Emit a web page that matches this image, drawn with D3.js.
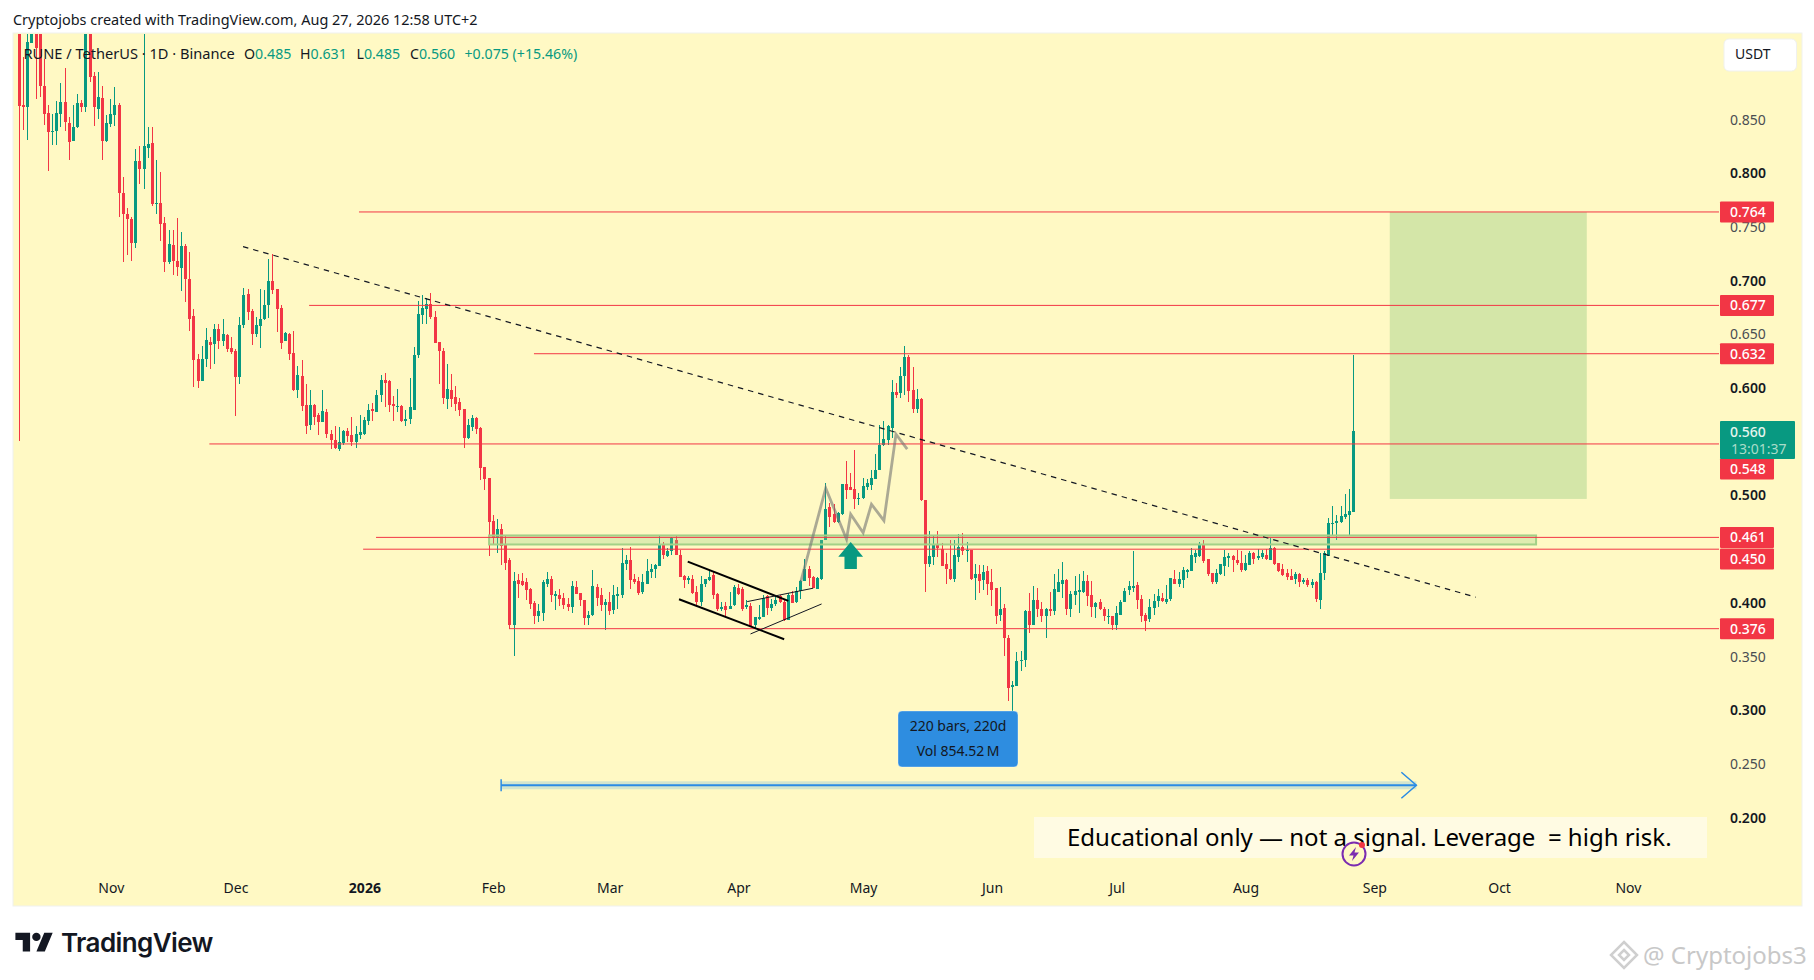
<!DOCTYPE html>
<html>
<head>
<meta charset="utf-8">
<script src="https://d3js.org/d3.v7.min.js"></script>
<style>
  html, body { margin: 0; padding: 0; background: #fff; overflow: hidden; }
  svg { display: block; }
  text { font-family: "Noto Sans", sans-serif; white-space: pre; }
</style>
</head>
<body>
<script>
// daily RUNE/USDT candles, first bar is Oct 10 2025
var opens = [1.1,.864,.862,.921,.96,.95,.881,.856,.838,.839,
.855,.866,.847,.83,.843,.865,.862,.96,.891,.86,
.87,.83,.846,.854,.864,.782,.762,.757,.735,.811,
.804,.824,.828,.771,.772,.754,.717,.733,.718,.712,
.732,.702,.667,.627,.607,.627,.643,.641,.655,.644,
.649,.637,.635,.61,.659,.688,.672,.65,.658,.664,
.677,.7,.692,.675,.644,.65,.633,.598,.611,.584,
.566,.584,.575,.568,.578,.557,.552,.543,.549,.56,
.556,.55,.556,.557,.569,.581,.578,.594,.608,.607,
.585,.582,.583,.569,.571,.58,.631,.668,.674,.678,
.666,.643,.635,.59,.598,.592,.587,.581,.554,.564,
.572,.563,.527,.516,.476,.46,.469,.455,.44,.379,
.421,.42,.419,.413,.4,.388,.391,.418,.422,.406,
.407,.405,.399,.396,.415,.409,.403,.386,.389,.415,
.407,.398,.401,.393,.406,.407,.436,.44,.422,.42,
.41,.418,.429,.432,.434,.454,.444,.448,.459,.445,
.425,.421,.422,.41,.401,.418,.421,.426,.408,.394,
.397,.394,.398,.414,.413,.396,.397,.379,.385,.387,
.406,.395,.399,.406,.401,.384,.407,.401,.411,.42,
.432,.424,.413,.422,.459,.489,.483,.475,.483,.511,
.508,.506,.497,.498,.508,.51,.515,.524,.547,.552,
.563,.596,.595,.611,.629,.598,.581,.59,.496,.436,
.443,.454,.45,.436,.432,.422,.443,.452,.448,.449,
.423,.427,.421,.43,.419,.414,.389,.395,.367,.322,
.323,.346,.347,.392,.379,.403,.394,.388,.394,.392,
.41,.418,.421,.394,.407,.41,.41,.42,.407,.396,
.401,.394,.387,.388,.379,.389,.401,.412,.414,.417,
.404,.389,.385,.395,.402,.405,.401,.404,.422,.418,
.421,.429,.43,.443,.444,.455,.441,.428,.419,.427,
.434,.442,.444,.44,.437,.431,.435,.446,.442,.443,
.445,.44,.451,.437,.432,.428,.425,.422,.427,.419,
.421,.417,.419,.403,.428,.444,.473,.474,.475,.48,
.482,.485];
var highs = [1.15,.908,.95,.99,.985,.975,.906,.864,.855,.867,
.884,.898,.852,.864,.874,.868,.99,.99,.894,.894,
.881,.854,.869,.88,.865,.797,.768,.759,.823,.825,
1,.843,.843,.812,.801,.759,.747,.747,.758,.745,
.734,.727,.674,.632,.639,.656,.648,.66,.66,.664,
.65,.648,.636,.666,.693,.692,.674,.666,.692,.691,
.72,.725,.692,.677,.652,.651,.653,.621,.626,.604,
.598,.585,.577,.598,.581,.561,.565,.564,.561,.563,
.573,.565,.575,.573,.585,.586,.598,.612,.614,.608,
.593,.599,.584,.58,.609,.638,.681,.687,.684,.689,
.672,.643,.637,.622,.613,.602,.591,.581,.571,.575,
.573,.564,.527,.516,.482,.478,.473,.463,.442,.429,
.427,.428,.423,.414,.402,.399,.421,.429,.425,.411,
.413,.409,.405,.42,.42,.409,.403,.392,.431,.418,
.414,.404,.41,.417,.415,.451,.445,.452,.427,.424,
.427,.441,.436,.436,.462,.457,.451,.461,.462,.449,
.426,.425,.426,.416,.425,.422,.43,.429,.409,.401,
.401,.41,.417,.418,.415,.403,.4,.387,.398,.407,
.407,.404,.407,.407,.403,.409,.411,.415,.421,.441,
.434,.425,.424,.459,.512,.493,.492,.485,.511,.532,
.521,.542,.502,.516,.515,.524,.539,.566,.569,.566,
.608,.605,.62,.639,.631,.62,.599,.591,.496,.467,
.463,.467,.456,.446,.459,.459,.464,.465,.457,.449,
.436,.435,.435,.434,.432,.414,.415,.399,.37,.327,
.354,.355,.393,.409,.416,.414,.401,.395,.41,.427,
.432,.438,.422,.411,.425,.427,.43,.426,.42,.401,
.404,.396,.394,.388,.397,.403,.414,.42,.448,.419,
.407,.391,.404,.408,.413,.409,.417,.423,.431,.429,
.433,.432,.451,.449,.457,.459,.441,.428,.432,.436,
.449,.446,.445,.449,.448,.445,.448,.447,.45,.449,
.45,.46,.452,.437,.436,.432,.432,.429,.428,.423,
.423,.422,.42,.446,.448,.479,.49,.482,.49,.501,
.506,.631];
var lows = [.551,.84,.831,.921,.869,.871,.845,.802,.826,.826,
.843,.839,.812,.83,.842,.857,.857,.885,.844,.851,
.812,.829,.843,.844,.759,.717,.724,.718,.73,.79,
.785,.814,.77,.762,.737,.708,.716,.705,.704,.69,
.68,.653,.601,.6,.607,.62,.618,.622,.636,.639,
.634,.632,.574,.604,.656,.663,.64,.648,.637,.663,
.665,.688,.652,.636,.644,.626,.597,.591,.579,.557,
.561,.566,.556,.568,.554,.543,.543,.541,.547,.55,
.546,.544,.553,.556,.566,.569,.578,.587,.582,.578,
.569,.578,.568,.565,.567,.58,.628,.66,.66,.664,
.642,.604,.585,.581,.582,.579,.574,.544,.553,.56,
.557,.514,.505,.444,.454,.446,.435,.431,.376,.351,
.405,.416,.403,.394,.38,.382,.383,.415,.401,.393,
.397,.394,.392,.391,.408,.397,.379,.379,.388,.397,
.392,.375,.389,.39,.394,.405,.431,.413,.418,.407,
.408,.418,.423,.423,.434,.441,.443,.445,.445,.424,
.414,.418,.408,.397,.397,.415,.42,.404,.392,.392,
.387,.394,.397,.407,.392,.394,.378,.376,.384,.387,
.389,.392,.397,.4,.383,.384,.4,.4,.404,.42,
.416,.414,.413,.421,.459,.471,.474,.474,.482,.497,
.505,.487,.491,.497,.505,.505,.515,.524,.546,.547,
.554,.591,.591,.594,.587,.577,.577,.495,.41,.433,
.435,.443,.434,.418,.421,.419,.438,.445,.438,.421,
.403,.409,.412,.407,.397,.38,.383,.351,.309,.296,
.323,.337,.34,.372,.379,.387,.382,.367,.388,.389,
.41,.405,.389,.387,.398,.391,.409,.397,.387,.386,
.393,.383,.38,.375,.375,.389,.401,.407,.41,.394,
.382,.374,.382,.389,.396,.401,.399,.402,.418,.415,
.414,.423,.43,.437,.443,.437,.425,.418,.418,.426,
.425,.433,.429,.435,.429,.43,.435,.436,.44,.441,
.44,.44,.435,.429,.425,.421,.421,.418,.415,.418,
.415,.414,.401,.394,.421,.444,.463,.459,.474,.478,
.463,.485];
var closes = [.863,.862,.922,.96,.917,.881,.855,.838,.839,.856,
.866,.848,.829,.843,.865,.862,.96,.89,.862,.871,
.83,.847,.855,.864,.782,.762,.757,.735,.811,.804,
.825,.827,.771,.772,.753,.717,.734,.718,.713,.732,
.702,.664,.626,.607,.627,.645,.64,.655,.644,.65,
.636,.634,.61,.659,.687,.671,.65,.659,.664,.677,
.7,.691,.674,.642,.651,.632,.598,.612,.583,.565,
.584,.573,.568,.579,.557,.552,.544,.55,.56,.555,
.55,.557,.559,.57,.58,.579,.594,.608,.605,.584,
.583,.583,.569,.571,.582,.631,.669,.675,.678,.666,
.642,.635,.591,.599,.59,.585,.58,.554,.566,.572,
.562,.526,.515,.475,.46,.469,.453,.437,.379,.42,
.418,.417,.412,.399,.388,.392,.419,.422,.407,.408,
.404,.398,.396,.416,.408,.403,.386,.389,.416,.405,
.398,.401,.392,.407,.408,.437,.44,.421,.419,.409,
.419,.43,.432,.435,.454,.445,.448,.46,.445,.424,
.421,.423,.409,.401,.418,.422,.424,.407,.394,.396,
.393,.397,.415,.408,.394,.398,.378,.387,.387,.405,
.395,.399,.403,.401,.384,.407,.4,.411,.42,.432,
.423,.414,.423,.459,.487,.48,.475,.484,.511,.505,
.505,.497,.498,.509,.512,.516,.524,.547,.553,.565,
.596,.594,.611,.629,.597,.581,.59,.496,.436,.444,
.454,.451,.434,.432,.422,.445,.452,.448,.449,.422,
.427,.42,.429,.418,.412,.388,.394,.367,.321,.324,
.346,.347,.392,.379,.403,.394,.388,.394,.392,.413,
.419,.421,.394,.408,.411,.412,.42,.406,.396,.4,
.394,.388,.388,.379,.391,.401,.411,.416,.416,.403,
.388,.383,.396,.402,.406,.402,.404,.423,.418,.422,
.431,.431,.445,.446,.454,.439,.427,.419,.428,.436,
.443,.444,.44,.437,.431,.437,.446,.441,.444,.446,
.441,.451,.436,.43,.426,.424,.421,.427,.419,.421,
.417,.419,.404,.428,.446,.474,.474,.476,.481,.483,
.486,.56];

var firstDay = Date.UTC(2025, 9, 10);
var monthLabels = ["Nov","Dec","2026","Feb","Mar","Apr","May","Jun","Jul","Aug","Sep","Oct","Nov"];
var monthDates = ["2025-11-01","2025-12-01","2026-01-01","2026-02-01","2026-03-01","2026-04-01","2026-05-01","2026-06-01","2026-07-01","2026-08-01","2026-09-01","2026-10-01","2026-11-01"];
var priceTicks = [.85,.8,.75,.7,.65,.6,.5,.4,.35,.3,.25,.2];

// horizontal levels and the bar each one starts at
var levelPrices = [.764,.677,.632,.548,.461,.45,.376];
var levelStarts = [81.7,69.7,123.8,45.7,85.8,82.7,117.8];

// drawings as [bar, price]
var trendLine = [[53.8,.7317],[350.4,.4053]];
var channelHigh = [[160.8,.4384],[185,.4019]];
var channelLow = [[158.7,.4034],[184,.3662]];
var riseHigh = [[175.1,.4012],[191,.4137]];
var riseLow = [[175.9,.3711],[193,.399]];
var zigzag = [[188,.4198],[194,.5068],[199,.4593],[200,.4826],[203,.4654],[205,.4919],[208,.4766],[210.9,.557],[213.6,.5431]];
var targetBox = [[329.7,.764],[377.1,.4968]];
var zoneBox = [[113,.4628],[364.9,.4544]];
var measure = [[115.9,.2302],[336.1,.2302]];

var width = 1814, height = 980;
var paneLeft = 14, paneTop = 34, paneRight = 1801, paneBottom = 905, levelEnd = 1719;
var green = "#089981", red = "#f23645", ink = "#131722", paneFill = "#fff9c4";

var x = d3.scaleLinear().domain([0, opens.length - 1]).range([19.4, 1353.6]);
var y = d3.scaleLinear().domain([.2, .85]).range([817.7, 119.6]);

var svg = d3.select("body").append("svg").attr("width", width).attr("height", height);

svg.append("defs").append("clipPath").attr("id", "pane").append("rect")
    .attr("x", paneLeft).attr("y", paneTop)
    .attr("width", paneRight - paneLeft).attr("height", paneBottom - paneTop);

// header line
svg.append("text").attr("x", 13).attr("y", 25).attr("font-size", 14.45).attr("fill", ink)
    .text("Cryptojobs created with TradingView.com, Aug 27, 2026 12:58 UTC+2");

svg.append("rect").attr("x", paneLeft - 1).attr("y", paneTop - 1)
    .attr("width", paneRight - paneLeft + 2).attr("height", paneBottom - paneTop + 2)
    .attr("fill", paneFill).attr("stroke", "#f0f1ee").attr("stroke-width", 1);

var chart = svg.append("g").attr("clip-path", "url(#pane)");

// target box sits under the candles
chart.append("rect")
    .attr("x", x(targetBox[0][0])).attr("y", y(targetBox[0][1]))
    .attr("width", x(targetBox[1][0]) - x(targetBox[0][0]))
    .attr("height", y(targetBox[1][1]) - y(targetBox[0][1]))
    .attr("fill", "#d4e6a8");

// candles
var bars = chart.append("g").attr("shape-rendering", "crispEdges").selectAll("g")
    .data(opens.map(function(o, i) { return { i: i, o: o, h: highs[i], l: lows[i], c: closes[i] }; }))
    .join("g")
    .attr("fill", function(d) { return d.c >= d.o ? green : red; });
bars.append("rect")
    .attr("x", function(d) { return Math.round(x(d.i) - 0.5); })
    .attr("width", 1)
    .attr("y", function(d) { return y(d.h); })
    .attr("height", function(d) { return y(d.l) - y(d.h); });
bars.append("rect")
    .attr("x", function(d) { return Math.round(x(d.i) - 0.5) - 1; })
    .attr("width", 3)
    .attr("y", function(d) { return y(Math.max(d.o, d.c)); })
    .attr("height", function(d) { return Math.max(1, Math.abs(y(d.o) - y(d.c))); });

var line = d3.line().x(function(d) { return x(d[0]); }).y(function(d) { return y(d[1]); });

// support zone
chart.append("rect")
    .attr("x", x(zoneBox[0][0])).attr("y", y(zoneBox[0][1]))
    .attr("width", x(zoneBox[1][0]) - x(zoneBox[0][0]))
    .attr("height", y(zoneBox[1][1]) - y(zoneBox[0][1]))
    .attr("fill", "rgba(150,205,130,.3)").attr("stroke", "#a3d187").attr("stroke-width", 2);

// levels
chart.selectAll(".level").data(levelPrices).join("line").attr("class", "level")
    .attr("x1", function(d, i) { return x(levelStarts[i]); })
    .attr("x2", levelEnd)
    .attr("y1", function(d) { return y(d); })
    .attr("y2", function(d) { return y(d); })
    .attr("stroke", red).attr("stroke-width", 1);

// trend line and flag
chart.append("path").attr("d", line(trendLine)).attr("fill", "none")
    .attr("stroke", ink).attr("stroke-width", 1.2).attr("stroke-dasharray", "5.5 5");
[channelHigh, channelLow].forEach(function(pts) {
    chart.append("path").attr("d", line(pts)).attr("stroke", "#000").attr("stroke-width", 2).attr("fill", "none");
});
[riseHigh, riseLow].forEach(function(pts) {
    chart.append("path").attr("d", line(pts)).attr("stroke", ink).attr("stroke-width", 1).attr("fill", "none");
});
chart.append("path").attr("d", line(zigzag)).attr("fill", "none")
    .attr("stroke", "rgba(115,115,115,.6)").attr("stroke-width", 2.8).attr("stroke-linejoin", "miter");

// up arrow
var arrowX = x(200), arrowY = 542;
chart.append("path")
    .attr("d", "M" + arrowX + "," + arrowY + "l12.4,14.7h-6.2v12.3h-12.4v-12.3h-6.2z")
    .attr("fill", green);

// date range tool
var mx0 = x(measure[0][0]), mx1 = x(measure[1][0]), my = y(measure[0][1]);
chart.append("rect").attr("x", mx0).attr("y", my - 4).attr("width", mx1 - mx0).attr("height", 8)
    .attr("fill", "rgba(33,150,243,.2)");
chart.append("line").attr("x1", mx0).attr("x2", mx1).attr("y1", my).attr("y2", my)
    .attr("stroke", "#2a8be4").attr("stroke-width", 2);
chart.append("line").attr("x1", mx0).attr("x2", mx0).attr("y1", my - 6).attr("y2", my + 6)
    .attr("stroke", "#2a8be4").attr("stroke-width", 1.5);
chart.append("path").attr("d", "M" + (mx1 - 15) + "," + (my - 13) + "L" + mx1 + "," + my + "L" + (mx1 - 15) + "," + (my + 13))
    .attr("fill", "none").attr("stroke", "#2a8be4").attr("stroke-width", 1.5);

// range tooltip
svg.append("rect").attr("x", 898).attr("y", 711).attr("width", 120).attr("height", 56).attr("rx", 4)
    .attr("fill", "#2e8de0").attr("stroke", "rgba(255,255,255,.35)");
svg.append("text").attr("x", 958).attr("y", 730.5).attr("text-anchor", "middle").attr("font-size", 14).attr("fill", ink)
    .text("220 bars, 220d");
svg.append("text").attr("x", 958).attr("y", 755.5).attr("text-anchor", "middle").attr("font-size", 14).attr("fill", ink)
    .text("Vol 854.52\u2009M");

// note at the bottom
svg.append("rect").attr("x", 1034).attr("y", 817).attr("width", 673).attr("height", 41)
    .attr("fill", "#fffbe3");
svg.append("text").attr("x", 1067).attr("y", 846).attr("font-size", 24).attr("fill", "#000")
    .text("Educational only \u2014 not a signal. Leverage  = high risk.");

// flash icon
var flash = svg.append("g").attr("transform", "translate(1354,854)");
flash.append("circle").attr("r", 11.5).attr("fill", paneFill).attr("stroke", "#7b2cb0").attr("stroke-width", 2);
flash.append("path").attr("d", "M2,-7L-5,1.5H-0.5L-2,7L5,-1.5H0.5z").attr("fill", "#7b2cb0");
flash.append("circle").attr("cx", 8).attr("cy", -9).attr("r", 3).attr("fill", red);

// price axis
var yAxis = svg.append("g").attr("transform", "translate(1730,0)")
    .call(d3.axisRight(y).tickValues(priceTicks).tickSize(0).tickPadding(0).tickFormat(d3.format(".3f")));
yAxis.select(".domain").remove();
yAxis.selectAll("text")
    .attr("font-family", "'Noto Sans', sans-serif").attr("font-size", 14)
    .attr("font-weight", function(d) { return Math.round(d * 100) % 10 === 0 ? 600 : 400; })
    .attr("fill", function(d) { return Math.round(d * 100) % 10 === 0 ? ink : "#4a4d52"; });

// time axis, tick positions come from the dates
var monthBars = monthDates.map(function(s) { return d3.utcDay.count(firstDay, new Date(s)); });
var xAxis = svg.append("g").attr("transform", "translate(0,883)")
    .call(d3.axisBottom(x).tickValues(monthBars).tickSize(0).tickPadding(0)
        .tickFormat(function(d, i) { return monthLabels[i]; }));
xAxis.select(".domain").remove();
xAxis.selectAll("text")
    .attr("font-family", "'Noto Sans', sans-serif").attr("font-size", 14).attr("fill", ink)
    .attr("font-weight", function(d, i) { return monthLabels[i] === "2026" ? 700 : 400; });

// price tags
var tagNudge = { 0.548: 25, 0.45: 9.7 };
var tags = svg.selectAll(".tag").data(levelPrices).join("g").attr("class", "tag")
    .attr("transform", function(d) { return "translate(1720," + (y(d) + (tagNudge[d] || 0)) + ")"; });
tags.append("rect").attr("y", -10.5).attr("width", 54).attr("height", 21).attr("rx", 1).attr("fill", red);
tags.append("text").attr("x", 10).attr("y", 5).attr("font-size", 14).attr("font-weight", 500).attr("fill", "#fff")
    .text(function(d) { return d3.format(".3f")(d); });

// last price tag
var lastPrice = closes[closes.length - 1];
svg.append("rect").attr("x", 1720).attr("y", y(lastPrice) - 10).attr("width", 75).attr("height", 38).attr("rx", 1).attr("fill", green);
svg.append("text").attr("x", 1730).attr("y", y(lastPrice) + 5.5).attr("font-size", 14).attr("font-weight", 500).attr("fill", "#e6f5ee")
    .text(d3.format(".3f")(lastPrice));
svg.append("text").attr("x", 1731).attr("y", y(lastPrice) + 23).attr("font-size", 14).attr("fill", "#a9dcc9")
    .text("13:01:37");

// currency button
svg.append("rect").attr("x", 1724).attr("y", 39).attr("width", 72.5).attr("height", 32).attr("rx", 5)
    .attr("fill", "#fff").attr("stroke", "#f0f1ee");
svg.append("text").attr("x", 1735).attr("y", 59).attr("font-size", 14).attr("fill", ink).text("USDT");

// legend
var legendY = 59;
svg.append("text").attr("x", 23.5).attr("y", legendY).attr("font-size", 14.6).attr("fill", ink)
    .text("RUNE / TetherUS \u00b7 1D \u00b7 Binance");
var legendKeys = ["O", "H", "L", "C"];
var legendVals = [opens[321], highs[321], lows[321], closes[321]];
var legendX = [244, 300, 356.5, 410];
legendKeys.forEach(function(k, i) {
    var t = svg.append("text").attr("x", legendX[i]).attr("y", legendY).attr("font-size", 14.2).attr("fill", ink).text(k);
    t.append("tspan").attr("fill", green).text(d3.format(".3f")(legendVals[i]));
});
svg.append("text").attr("x", 464.5).attr("y", legendY).attr("font-size", 14.2).attr("fill", green)
    .text("+0.075 (+15.46%)");

// TradingView mark
svg.append("path").attr("transform", "translate(15.4,928.5) scale(1.05)")
    .attr("d", "M14 22H7V11H0V4h14v18zM28 22h-8l7.5-18h8L28 22z").attr("fill", "#131722");
svg.append("circle").attr("cx", 36.4).attr("cy", 936.9).attr("r", 4.2).attr("fill", "#131722");
svg.append("text").attr("x", 61).attr("y", 952).attr("font-size", 26).attr("font-weight", 600).attr("fill", "#131722")
    .attr("style", "font-family:Inter,sans-serif").attr("letter-spacing", "-0.6").text("TradingView");

// watermark
var wm = svg.append("g").attr("transform", "translate(1624,955)").attr("fill", "none").attr("stroke", "#cfcfcf").attr("stroke-width", 2.5);
wm.append("path").attr("d", "M0,-13L13,0L0,13L-13,0z");
wm.append("path").attr("d", "M0,-5L5,0L0,5L-5,0z");
svg.append("text").attr("x", 1643).attr("y", 964).attr("font-size", 24).attr("fill", "#c8c8c8")
    .text("@ Cryptojobs3");
</script>
</body>
</html>
